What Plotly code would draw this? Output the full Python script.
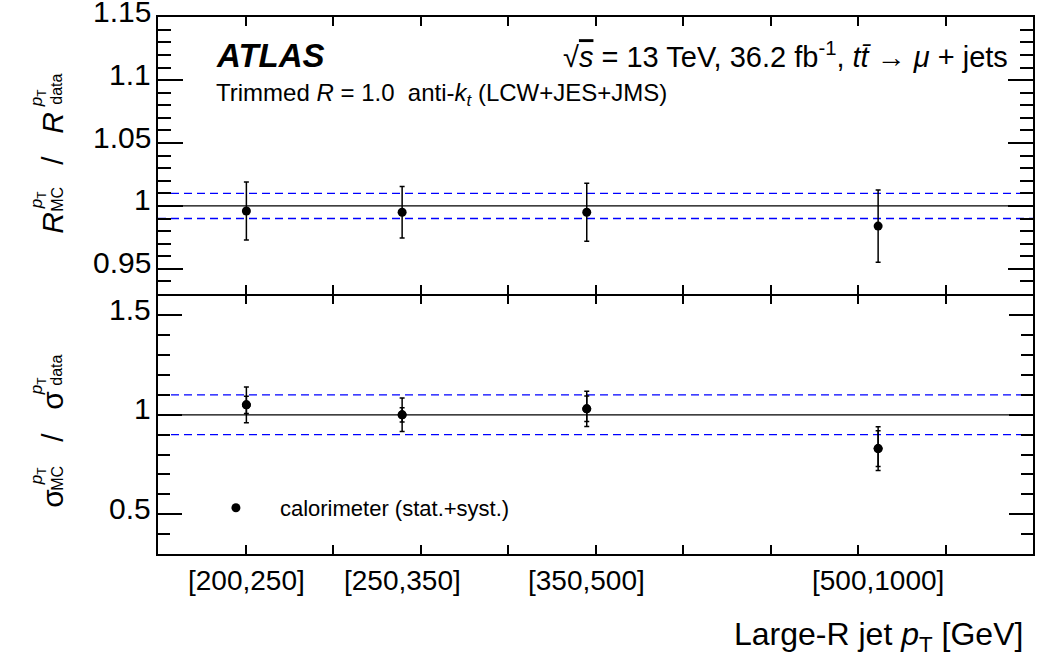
import plotly.graph_objects as go

# ---- data ---------------------------------------------------------------
bin_labels = ["[200,250]", "[250,350]", "[350,500]", "[500,1000]"]
bin_centres = [1.01, 2.79, 4.90, 8.23]

# jet pT response ratio  R_MC / R_data
resp_ratio = [0.996, 0.995, 0.995, 0.984]
resp_err = [0.023, 0.0205, 0.023, 0.0287]

# jet pT resolution ratio  sigma_MC / sigma_data
reso_ratio = [1.05, 1.00, 1.03, 0.83]
reso_err_tot = [0.09, 0.084, 0.089, 0.11]
reso_err_stat = [0.043, 0.036, 0.064, 0.09]

unity = 1.0
resp_band = 0.01
reso_band = 0.10

# axis ranges, tick steps (major, minor) and tick labels
resp_range = [0.93, 1.1502]
resp_steps = (0.05, 0.01)
resp_ticks = [0.95, 1.0, 1.05, 1.1, 1.15]
resp_ticktext = ["0.95", "1", "1.05", "1.1", "1.15"]
reso_range = [0.3, 1.6]
reso_steps = (0.5, 0.1)
reso_ticks = [0.5, 1.0, 1.5]
reso_ticktext = ["0.5", "1", "1.5"]

# ---- layout helpers ---------------------------------------------------------
FONT = "Liberation Sans, Arial, Helvetica, sans-serif"
W, H = 1043, 664
PL, PR, PT, PB = 158, 1035, 17, 554


def fx(px):
    return (px - PL) / (PR - PL)


def fy(py):
    return (PB - py) / (PB - PT)


# the two panels share one frame line at y = 294 px
TOP_DOMAIN = [fy(294), 1]
BOTTOM_DOMAIN = [0, fy(295.5)]

fig = go.Figure()

marker = dict(size=9, color="black", symbol="circle")

fig.add_trace(go.Scatter(
    x=bin_centres, y=resp_ratio, mode="markers", marker=marker,
    error_y=dict(type="data", array=resp_err, color="black", thickness=1.5, width=2.5),
    xaxis="x", yaxis="y", showlegend=False, hoverinfo="skip"))

fig.add_trace(go.Scatter(
    x=bin_centres, y=reso_ratio, mode="markers", marker=marker,
    name="calorimeter (stat.+syst.)",
    error_y=dict(type="data", array=reso_err_tot, color="black", thickness=1.5, width=2.5),
    xaxis="x2", yaxis="y2", showlegend=True, hoverinfo="skip"))

fig.add_trace(go.Scatter(
    x=bin_centres, y=reso_ratio, mode="markers", marker=marker,
    error_y=dict(type="data", array=reso_err_stat, color="black", thickness=1.5, width=2.5),
    xaxis="x2", yaxis="y2", showlegend=False, hoverinfo="skip"))

# reference lines
for xr, yr, band in (("x domain", "y", resp_band), ("x2 domain", "y2", reso_band)):
    fig.add_shape(type="line", xref=xr, yref=yr, x0=0, x1=1, y0=unity, y1=unity,
                  line=dict(color="black", width=1.3), layer="below")
    for sgn in (1, -1):
        yv = unity + sgn * band
        fig.add_shape(type="line", xref=xr, yref=yr, x0=0, x1=1, y0=yv, y1=yv,
                      line=dict(color="#0000ff", width=1.3, dash="8px,5px"), layer="below")


def xaxis_style(anchor):
    return dict(domain=[0, 1], range=[0, 10], anchor=anchor, tickmode="linear", tick0=0, dtick=1,
                ticks="inside", ticklen=9, tickwidth=1.5, tickcolor="black",
                showticklabels=False, showline=True, linewidth=1.5, linecolor="black",
                mirror="allticks", showgrid=False, zeroline=False)


def yaxis_style(domain, rng, steps, anchor, major_len, minor_len):
    major, minor = steps
    return dict(domain=domain, range=rng, anchor=anchor, tickmode="linear", tick0=1, dtick=major,
                ticks="inside", ticklen=major_len, tickwidth=1.5, tickcolor="black",
                minor=dict(ticks="inside", ticklen=minor_len, tickwidth=1.5,
                           tickcolor="black", dtick=minor),
                showticklabels=False,
                showline=True, linewidth=1.5, linecolor="black", mirror="allticks",
                showgrid=False, zeroline=False)


annotations = []

# y tick labels, set beside the left frame edge
for yref, vals, texts in (("y", resp_ticks, resp_ticktext), ("y2", reso_ticks, reso_ticktext)):
    for v, t in zip(vals, texts):
        annotations.append(dict(text=t, x=fx(153), y=v, xref="paper", yref=yref,
                                xanchor="right", yanchor="middle", yshift=6, showarrow=False,
                                font=dict(size=30, color="black", family=FONT)))

# panel texts
annotations.append(dict(text="<b><i>ATLAS</i></b>", x=fx(214), y=fy(55), xref="paper", yref="paper",
                        xanchor="left", yanchor="middle", showarrow=False,
                        font=dict(size=33, color="black", family=FONT)))
annotations.append(dict(text="Trimmed <i>R</i> = 1.0\u00a0 anti-<i>k<sub>t</sub></i> (LCW+JES+JMS)",
                        x=fx(214), y=fy(95), xref="paper", yref="paper",
                        xanchor="left", yanchor="middle", showarrow=False,
                        font=dict(size=24, color="black", family=FONT)))
annotations.append(dict(text="\u221a<span style='text-decoration:overline'><i>s</i></span> = 13 TeV, 36.2 fb<sup>-1</sup>, "
                             "<i>t</i><i>t\u0304</i> \u2192 <i>\u03bc</i> + jets",
                        x=fx(1012), y=fy(55), xref="paper", yref="paper",
                        xanchor="right", yanchor="middle", showarrow=False,
                        font=dict(size=29, color="black", family=FONT)))

# bin labels under the lower panel
for lab, xc in zip(bin_labels, bin_centres):
    annotations.append(dict(text=lab, x=xc, y=fy(580), xref="x2", yref="paper",
                            xanchor="center", yanchor="middle", showarrow=False,
                            font=dict(size=28, color="black", family=FONT)))

# x-axis title
annotations.append(dict(text="Large-R jet <i>p</i><sub>T</sub> [GeV]", x=fx(1027), y=fy(636),
                        xref="paper", yref="paper", xanchor="right", yanchor="middle",
                        showarrow=False, font=dict(size=32, color="black", family=FONT)))

# y-axis titles, assembled from pieces so the super/subscripts stack
title_pieces = [
    # upper panel: R^pT_MC / R^pT_data
    ("<i>R</i>", 30, 51.5, 223),
    ("<i>p</i><sub>T</sub>", 17, 38, 200),
    ("MC", 16, 56.5, 199),
    ("/", 30, 51.5, 160),
    ("<i>R</i>", 30, 51.5, 123),
    ("<i>p</i><sub>T</sub>", 17, 38, 98),
    ("data", 16, 56.5, 89),
    # lower panel: sigma^pT_MC / sigma^pT_data
    ("\u03c3", 30, 51.5, 498),
    ("<i>p</i><sub>T</sub>", 17, 38, 476),
    ("MC", 16, 56.5, 478),
    ("/", 30, 51.5, 437),
    ("\u03c3", 30, 51.5, 400),
    ("<i>p</i><sub>T</sub>", 17, 38, 386),
    ("data", 16, 56.5, 370),
]
for txt, size, cx, cy in title_pieces:
    annotations.append(dict(text=txt, x=fx(cx), y=fy(cy), xref="paper", yref="paper",
                            xanchor="center", yanchor="middle", textangle=-90, showarrow=False,
                            font=dict(size=size, color="black", family=FONT)))

fig.update_layout(
    width=W, height=H,
    margin=dict(l=PL, r=W - PR, t=PT, b=H - PB, pad=0),
    paper_bgcolor="white", plot_bgcolor="white",
    font=dict(family=FONT, color="black"),
    xaxis=xaxis_style("y"),
    xaxis2=xaxis_style("y2"),
    yaxis=yaxis_style(TOP_DOMAIN, resp_range, resp_steps, "x", 25, 13),
    yaxis2=yaxis_style(BOTTOM_DOMAIN, reso_range, reso_steps, "x2", 24, 12),
    legend=dict(x=fx(192), y=fy(508), xanchor="left", yanchor="middle", bgcolor="rgba(0,0,0,0)",
                itemwidth=78, font=dict(size=22, color="black", family=FONT)),
    annotations=annotations,
)

fig.write_html("out.html")
